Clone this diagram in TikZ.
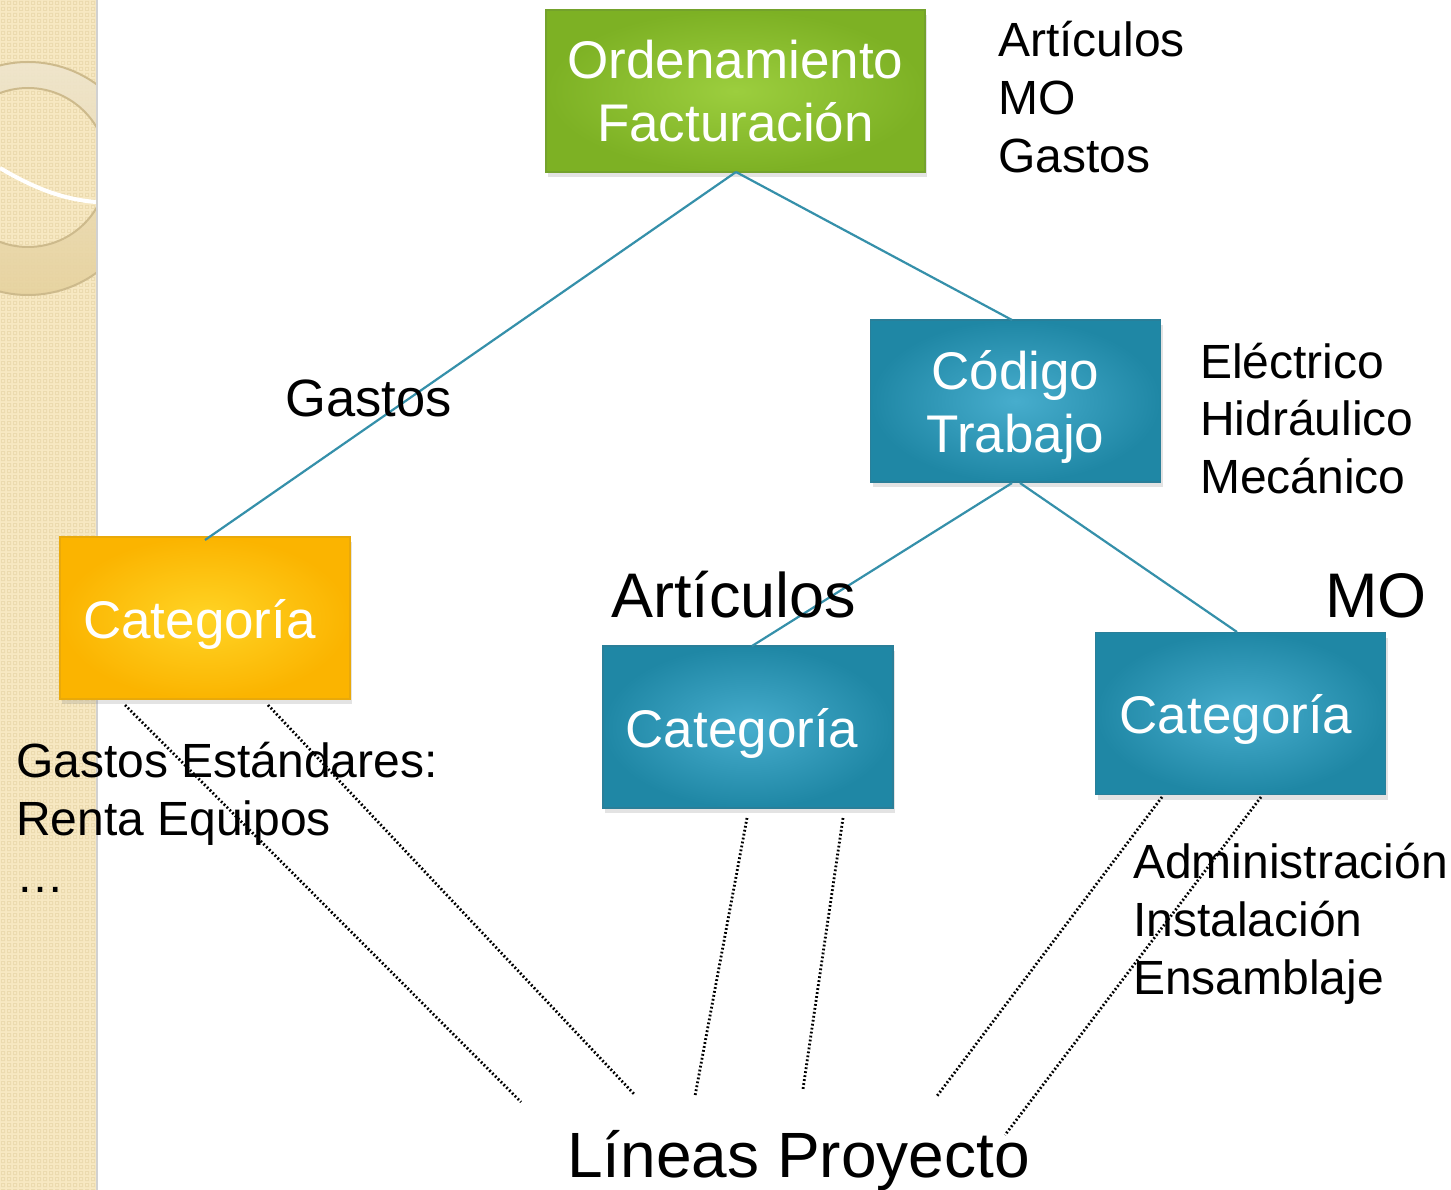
\documentclass[tikz,border=0pt]{standalone}
\usepackage{fontspec}
\setmainfont{Liberation Sans}
\usetikzlibrary{shadows}
\definecolor{stripcol}{HTML}{F7E8C2}
\definecolor{gridcol}{HTML}{EBDAAE}
\definecolor{ringtop}{HTML}{EFE5CD}
\definecolor{ringbot}{HTML}{E6D29E}
\definecolor{ringedge}{HTML}{CDBA8C}
\definecolor{conn}{HTML}{3590AA}
\definecolor{greenin}{HTML}{9CCE3E}
\definecolor{greenout}{HTML}{7DB124}
\definecolor{greenedge}{HTML}{74A22C}
\definecolor{bluein}{HTML}{47ADCD}
\definecolor{blueout}{HTML}{1F87A5}
\definecolor{blueedge}{HTML}{2A7F99}
\definecolor{orangein}{HTML}{FFD425}
\definecolor{orangeout}{HTML}{FBB400}
\definecolor{orangeedge}{HTML}{E9A90A}
\begin{document}
\begin{tikzpicture}[x=1pt,y=-1pt,
  box/.style={draw, line width=1.5pt, inner sep=0pt, text=white, align=center,
    minimum width=290pt, minimum height=162pt,
    font=\fontsize{53}{63}\selectfont,
    drop shadow={shadow xshift=2pt, shadow yshift=-5pt, opacity=0.22}},
  oneline/.style={text height=40pt, text depth=0pt},
  greenbox/.style={box, draw=greenedge, inner color=greenin, outer color=greenout},
  bluebox/.style={box, draw=blueedge, inner color=bluein, outer color=blueout},
  orangebox/.style={box, draw=orangeedge, inner color=orangein, outer color=orangeout},
  conn/.style={draw=conn, line width=2.2pt},
  dots/.style={draw=black, line width=2.8pt, dash pattern=on 1.8pt off 2.2pt},
  listtxt/.style={anchor=base west, inner sep=0pt, font=\fontsize{48}{58}\selectfont},
  bigtxt/.style={anchor=base west, inner sep=0pt, font=\fontsize{63}{70}\selectfont},
]
\useasboundingbox (0,0) rectangle (1451,1190);
\fill[white] (0,0) rectangle (1451,1190);
% left decorative strip
\fill[stripcol] (0,0) rectangle (96,1190);
\fill[gridcol] \foreach \i in {0,...,15} {\foreach \j in {0,...,198} {(\i*6+1,\j*6+1) rectangle ++(4,4)}};
\fill[stripcol] \foreach \i in {0,...,15} {\foreach \j in {0,...,198} {(\i*6+2,\j*6+2) rectangle ++(2,2)}};
\begin{scope}
  \clip (0,0) rectangle (96,1190);
  \shade[top color=ringtop, bottom color=ringbot, even odd rule, opacity=0.9]
    (28,178.5) circle (116.5) (28,167.5) circle (79.5);
  \draw[ringedge, line width=2pt] (28,178.5) circle (116.5);
  \draw[ringedge, line width=2pt] (28,167.5) circle (79.5);
  \draw[white, line width=4pt] (0,168) .. controls (40,192) and (70,200) .. (96,202);
\end{scope}
\draw[black!18, line width=2pt] (97,0) -- (97,1190);

% boxes
\node[greenbox, minimum width=379pt] (top) at (735.5,91) {Ordenamiento\\Facturación};
\node[bluebox] (cod) at (1015.5,401) {\rule{0pt}{50pt}Código\\Trabajo};
\node[orangebox, oneline] (gcat) at (205,618) {Categoría\hspace*{11pt}};
\node[bluebox, oneline] (acat) at (748,727) {Categoría\hspace*{12pt}};
\node[bluebox, oneline] (mcat) at (1240.5,713.5) {Categoría\hspace*{9pt}};

% connectors
\coordinate (topb) at (736,172);
\coordinate (codb1) at (1012,483);
\coordinate (codb2) at (1020,483);
\draw[conn] (topb) -- (205,540);
\draw[conn] (topb) -- (1012,320);
\draw[conn] (codb1) -- (752,646);
\draw[conn] (codb2) -- (1237,632);

% labels
\node[listtxt] (l1) at (998,57) {Artículos};
\node[listtxt] (l2) at (998,115) {MO};
\node[listtxt] (l3) at (998,173) {Gastos};
\node[listtxt] (c1) at (1200,378) {Eléctrico};
\node[listtxt] (c2) at (1200,435) {Hidráulico};
\node[listtxt] (c3) at (1200,493) {Mecánico};
\node[listtxt, font=\fontsize{52.5}{60}\selectfont] (gl) at (285,416) {Gastos};
\node[bigtxt] (al) at (611,617) {Artículos};
\node[bigtxt] (ml) at (1325,617) {MO};
\node[listtxt] (g1) at (16,777) {Gastos Estándares:};
\node[listtxt] (g2) at (16,835) {Renta Equipos};
\node[listtxt] (g3) at (16,892) {…};
\node[listtxt] (m1) at (1133,878) {Administración};
\node[listtxt] (m2) at (1133,936) {Instalación};
\node[listtxt] (m3) at (1133,994) {Ensamblaje};
\node[bigtxt, font=\fontsize{64}{70}\selectfont] (lp) at (567,1177) {Líneas Proyecto};

% dotted connectors to Líneas Proyecto
\coordinate (d1) at (521,1102);
\coordinate (d2) at (634,1094);
\coordinate (d3) at (695,1096);
\coordinate (d4) at (803,1089);
\coordinate (d5) at (937,1096);
\coordinate (d6) at (1005,1135);
\draw[dots] (125,705) -- (d1);
\draw[dots] (268,705) -- (d2);
\draw[dots] (747,818) -- (d3);
\draw[dots] (843,818) -- (d4);
\draw[dots] (1162,797) -- (d5);
\draw[dots] (1261,797) -- (d6);
\end{tikzpicture}
\end{document}
